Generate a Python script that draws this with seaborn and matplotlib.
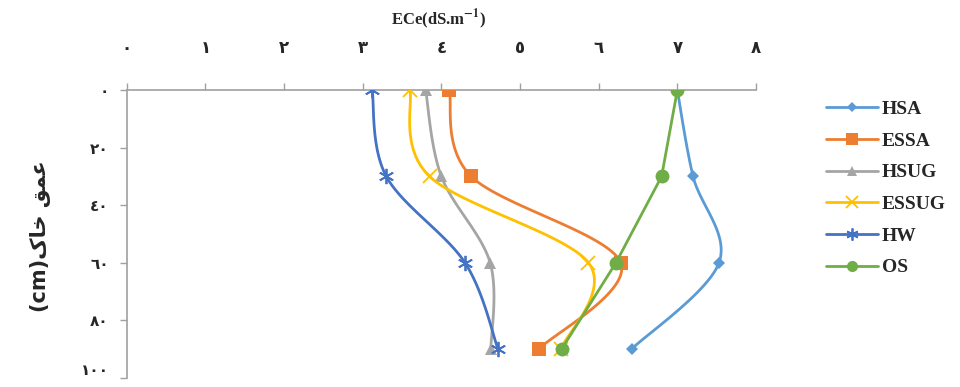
import numpy as np
import matplotlib
matplotlib.use("Agg")
import matplotlib.pyplot as plt
from matplotlib.lines import Line2D
import seaborn as sns

# depth of samples (cm) and ECe values
depth = [0, 30, 60, 90]
hsa = [7.00, 7.20, 7.53, 6.42]
essa = [4.10, 4.38, 6.28, 5.24]
hsug = [3.80, 4.00, 4.62, 4.63]
essug = [3.60, 3.85, 5.87, 5.52]
hw = [3.12, 3.30, 4.30, 4.72]
os_ = [7.00, 6.80, 6.22, 5.53]

series_names = ["HSA", "ESSA", "HSUG", "ESSUG", "HW", "OS"]
series_vals = [hsa, essa, hsug, essug, hw, os_]
colors = ["#5B9BD5", "#ED7D31", "#A5A5A5", "#FFC000", "#4472C4", "#70AD47"]
markers = ["D", "s", "^", "x", (6, 2, 0), "o"]
msizes = [6, 10, 9, 10, 11, 10]
smooth = [True, True, True, True, True, False]

x_ticks = [0, 1, 2, 3, 4, 5, 6, 7, 8]
x_labels = ["٠", "١", "٢", "٣", "٤", "٥", "٦", "٧", "٨"]
y_ticks = [0, 20, 40, 60, 80, 100]
y_labels = ["٠", "٢٠", "٤٠", "٦٠", "٨٠", "١٠٠"]

x_title = r"ECe(dS.m$^{\mathbf{-1}}$)"
# "عمق خاک(cm)" written in shaped, visual order (matplotlib has no arabic shaping)
y_title = "(cm)\u06A9\uFE8E\uFEA7 \uFED6\uFEE4\uFECB"


def excel_smooth(xv, yv, n=30):
    # bezier smoothing like excel's "smoothed line"
    p = np.column_stack([xv, yv]).astype(float)
    pts = np.vstack([p[0], p, p[-1]])
    out = []
    for i in range(1, len(pts) - 2):
        p0, p1, p2, p3 = pts[i - 1], pts[i], pts[i + 1], pts[i + 2]
        c1 = p1 + (p2 - p0) / 6.0
        c2 = p2 - (p3 - p1) / 6.0
        t = np.linspace(0, 1, n)[:, None]
        seg = ((1 - t) ** 3) * p1 + 3 * ((1 - t) ** 2) * t * c1 + 3 * (1 - t) * t ** 2 * c2 + t ** 3 * p2
        out.append(seg if i == 1 else seg[1:])
    out = np.vstack(out)
    return out[:, 0], out[:, 1]


sns.set_theme(style="white")
plt.rcParams["font.family"] = ["Liberation Serif", "DejaVu Sans"]
plt.rcParams["mathtext.fontset"] = "stix"

fig = plt.figure(figsize=(9.6, 3.87), dpi=100)
ax = fig.add_axes([0.132, 0.024, 0.6555, 0.743])

handles = []
for i, (name, vals) in enumerate(zip(series_names, series_vals)):
    if smooth[i]:
        sx, sy = excel_smooth(vals, depth)
    else:
        sx, sy = np.array(vals), np.array(depth)
    sns.lineplot(x=sx, y=sy, sort=False, estimator=None, color=colors[i],
                 lw=2, ax=ax, zorder=2 + i)
    unfilled = markers[i] in ("x", (6, 2, 0))
    sns.lineplot(x=vals, y=depth, sort=False, estimator=None, linestyle="",
                 marker=markers[i], markersize=msizes[i], color=colors[i],
                 markeredgecolor=colors[i], markeredgewidth=1.3 if unfilled else 0,
                 ax=ax, zorder=2.5 + i)
    handles.append(Line2D([], [], color=colors[i], lw=2, marker=markers[i],
                          markersize=msizes[i] * 0.8, markeredgecolor=colors[i],
                          markeredgewidth=1.3 if unfilled else 0))

ax.set_xlim(0, 8)
ax.set_ylim(100, 0)
ax.xaxis.tick_top()
ax.set_xticks(x_ticks)
ax.set_xticklabels(x_labels, fontsize=12, fontweight="bold", family=["DejaVu Sans"])
ax.set_yticks(y_ticks)
ax.set_yticklabels(y_labels, fontsize=11, fontweight="bold", family=["DejaVu Sans"])
ax.tick_params(axis="x", top=True, direction="out", length=5, width=1,
               color="#A0A0A0", pad=19)
ax.tick_params(axis="y", left=True, direction="out", length=5, width=1,
               color="#A0A0A0", pad=8)
ax.get_yticklabels()[-1].set_va("bottom")

for s in ["right", "bottom"]:
    ax.spines[s].set_visible(False)
for s in ["top", "left"]:
    ax.spines[s].set_color("#A0A0A0")
    ax.spines[s].set_linewidth(1.2)

fig.text(0.457, 0.95, x_title, ha="center", va="center", fontsize=12,
         fontweight="bold")
fig.text(0.042, 0.39, y_title, ha="center", va="center", rotation=90,
         fontsize=15, fontweight="bold", family=["DejaVu Sans"])

fig.legend(handles, series_names, loc="upper left", bbox_to_anchor=(0.852, 0.76),
           frameon=False, prop={"family": "Liberation Serif", "weight": "bold", "size": 14},
           handlelength=2.7, labelspacing=0.72, handletextpad=0.2, borderaxespad=0)

fig.savefig("out.png", dpi=100)
